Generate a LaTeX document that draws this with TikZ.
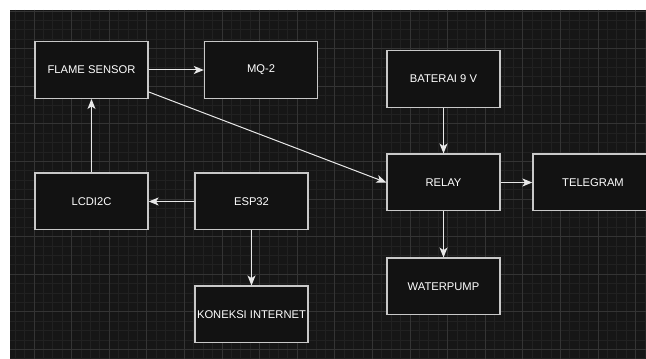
\documentclass[tikz,border=0pt]{standalone}
\usepackage{fontspec}
\setmainfont{Liberation Sans}
\usetikzlibrary{arrows.meta}
\definecolor{canvas}{RGB}{22,22,22}
\definecolor{minorgrid}{RGB}{33,33,33}
\definecolor{majorgrid}{RGB}{52,52,52}
\definecolor{boxfill}{RGB}{18,18,18}
\definecolor{boxline}{RGB}{200,200,200}
\definecolor{arrowcol}{RGB}{232,232,232}
\tikzset{every picture/.style={line width=0.75pt}}
\tikzset{blok/.style={draw=boxline, line width=1pt, fill=boxfill, text=white, minimum width=84.75pt, minimum height=42.5pt, inner sep=0pt, font=\fontsize{8.4}{10}\selectfont},
  panah/.style={draw=arrowcol, -{Stealth[length=7.5pt,width=6pt,inset=2pt]}}}

\begin{document}
\begin{tikzpicture}[x=0.75pt,y=0.75pt,yscale=-1,xscale=1]
\useasboundingbox (0,0) rectangle (646,359);

%Background with grid
\fill[white] (0,0) rectangle (646,359);
\fill[canvas] (10,10) rectangle (646,359);
\begin{scope}
\clip (10,10) rectangle (646,359);
\foreach \i in {-3,...,65} \draw[minorgrid, line width=0.6pt] ({34+9.4*\i},10) -- ({34+9.4*\i},359);
\foreach \j in {-1,...,37} \draw[minorgrid, line width=0.6pt] (10,{11+9.4*\j}) -- (646,{11+9.4*\j});
\foreach \i in {-1,...,16} \draw[majorgrid, line width=0.6pt] ({34+37.6*\i},10) -- ({34+37.6*\i},359);
\foreach \j in {0,...,9} \draw[majorgrid, line width=0.6pt] (10,{11+37.6*\j}) -- (646,{11+37.6*\j});
\end{scope}

% Text Node
\node[blok] (flame) at (91.5,70) {FLAME SENSOR};
% Text Node
\node[blok] (mq) at (261,70) {MQ-2};
% Text Node
\node[blok] (baterai) at (443.5,79) {BATERAI 9 V};
% Text Node
\node[blok] (relay) at (443.5,182.5) {RELAY};
% Text Node
\node[blok, minimum width=90pt] (telegram) at (593,182.5) {TELEGRAM};
% Text Node
\node[blok] (lcd) at (91.5,201.5) {LCDI2C};
% Text Node
\node[blok] (esp) at (251.5,201.5) {ESP32};
% Text Node
\node[blok] (koneksi) at (251.5,314.5) {KONEKSI INTERNET};
% Text Node
\node[blok] (pump) at (443.5,286.5) {WATERPUMP};

%Straight Lines
\draw[panah] (flame) -- (mq);
%Straight Lines
\draw[panah] (flame.-21) -- (relay.west);
%Straight Lines
\draw[panah] (baterai) -- (relay);
%Straight Lines
\draw[panah] (relay) -- (telegram);
%Straight Lines
\draw[panah] (relay) -- (pump);
%Straight Lines
\draw[panah] (esp) -- (lcd);
%Straight Lines
\draw[panah] (lcd) -- (flame);
%Straight Lines
\draw[panah] (esp) -- (koneksi);

\end{tikzpicture}
\end{document}
